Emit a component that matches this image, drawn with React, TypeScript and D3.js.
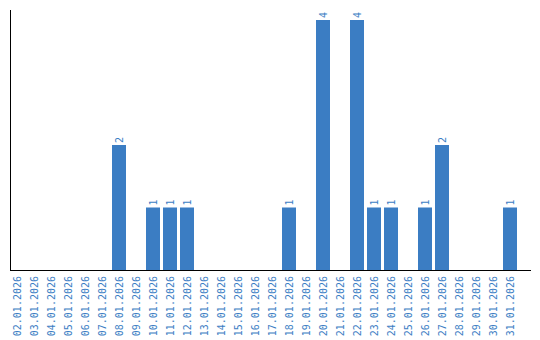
import React from "react";
import * as d3 from "d3";

const categories = [
  "02.01.2026","03.01.2026","04.01.2026","05.01.2026","06.01.2026","07.01.2026",
  "08.01.2026","09.01.2026","10.01.2026","11.01.2026","12.01.2026","13.01.2026",
  "14.01.2026","15.01.2026","16.01.2026","17.01.2026","18.01.2026","19.01.2026",
  "20.01.2026","21.01.2026","22.01.2026","23.01.2026","24.01.2026","25.01.2026",
  "26.01.2026","27.01.2026","28.01.2026","29.01.2026","30.01.2026","31.01.2026",
];
const values = [0,0,0,0,0,0,2,0,1,1,1,0,0,0,0,0,1,0,4,0,4,1,1,0,1,2,0,0,0,1];

const W = 540, H = 340;
const BAR = "#3b7dc3";
const TXT = "#3c7ec4";

export default function App() {
  const x = d3.scaleBand<string>().domain(categories).range([10, 517]).paddingInner(3 / 17).paddingOuter(0);
  const y = d3.scaleLinear().domain([0, 4]).range([270, 20]);
  const font = "'DejaVu Sans Mono', monospace";
  return (
    <svg width={W} height={H} style={{ position: "absolute", left: 0, top: 0 }}>
      {categories.map((c, i) => {
        const v = values[i];
        const bx = x(c)!;
        const cx = bx + x.bandwidth() / 2;
        return (
          <g key={c}>
            {v > 0 && (
              <>
                <rect x={bx} y={y(v)} width={x.bandwidth()} height={y(0) - y(v)} fill={BAR} />
                <text
                  transform={`translate(${cx},${y(v) - 2}) rotate(-90)`}
                  dy="0.35em"
                  textAnchor="start"
                  fontSize={10}
                  fontFamily={font}
                  fill={TXT}
                >
                  {v}
                </text>
              </>
            )}
            <text
              transform={`translate(${cx},${276}) rotate(-90)`}
              dy="0.35em"
              textAnchor="end"
              fontSize={10}
              fontFamily={font}
              fill={TXT}
            >
              {c}
            </text>
          </g>
        );
      })}
      <line x1={10.5} x2={10.5} y1={10} y2={270} stroke="#000" strokeWidth={1} />
      <line x1={10} x2={531} y1={270.5} y2={270.5} stroke="#000" strokeWidth={1} />
    </svg>
  );
}
